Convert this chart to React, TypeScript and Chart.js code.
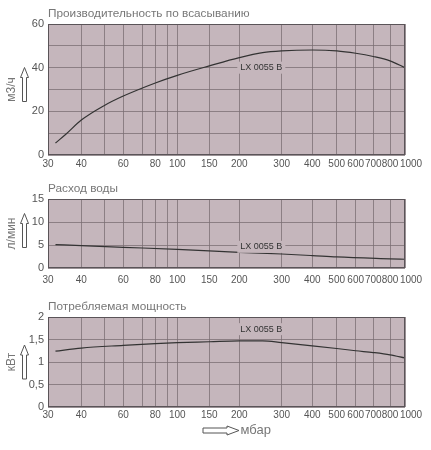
import React, { useEffect, useRef } from "react";
import { Chart, registerables, LogarithmicScale } from "chart.js";

// ---- data ----
const xTickValues = [30, 40, 50, 60, 70, 80, 90, 100, 150, 200, 300, 400, 500, 600, 700, 800, 1000];
const xHiddenLabels = [50, 70, 90];

const suctionPressure = [32, 35, 40, 50, 60, 80, 100, 150, 200, 250, 300, 400, 500, 600, 700, 800, 1000];
const suctionFlow = [5.5, 9.5, 16, 22.6, 27, 33, 36.5, 40.8, 44.6, 46.9, 47.7, 48.1, 47.7, 46.6, 45.1, 43.1, 40];

const waterPressure = [32, 40, 60, 100, 200, 300, 400, 500, 800, 1000];
const waterFlow = [5.1, 4.85, 4.5, 4.06, 3.4, 3.04, 2.7, 2.4, 2.0, 1.9];

const powerPressure = [32, 40, 60, 80, 100, 150, 200, 250, 300, 400, 500, 600, 700, 800, 1000];
const powerUse = [1.24, 1.31, 1.37, 1.41, 1.43, 1.45, 1.47, 1.47, 1.43, 1.36, 1.3, 1.25, 1.21, 1.16, 1.09];

const modelName = "LX 0055 B";
const xUnit = "мбар";

// ---- axis calibration of the printed (non-uniform, log-like) pressure axis ----
const axisStops = [30, 40, 50, 60, 70, 80, 90, 100, 150, 200, 300, 400, 500, 600, 700, 800, 1000];
const axisDecimals = [0, 0.0933, 0.1569, 0.2109, 0.2653, 0.3006, 0.3361, 0.3622, 0.4518, 0.5359, 0.6546, 0.7403, 0.8087, 0.8619, 0.9112, 0.958, 1];

function warp(v: number): number {
  const lv = Math.log(Math.max(v, 1e-9));
  const n = axisStops.length;
  let i = 0;
  while (i < n - 2 && v > axisStops[i + 1]) i++;
  const l0 = Math.log(axisStops[i]);
  const l1 = Math.log(axisStops[i + 1]);
  return axisDecimals[i] + ((axisDecimals[i + 1] - axisDecimals[i]) * (lv - l0)) / (l1 - l0);
}

function unwarp(d: number): number {
  const n = axisStops.length;
  let i = 0;
  while (i < n - 2 && d > axisDecimals[i + 1]) i++;
  const l0 = Math.log(axisStops[i]);
  const l1 = Math.log(axisStops[i + 1]);
  const t = (d - axisDecimals[i]) / (axisDecimals[i + 1] - axisDecimals[i]);
  return Math.exp(l0 + t * (l1 - l0));
}

class WarpedLogScale extends (LogarithmicScale as any) {
  static id = "warpedLog";
  static defaults = (LogarithmicScale as any).defaults;
  getPixelForValue(value: number) {
    return (this as any).getPixelForDecimal(warp(value));
  }
  getValueForPixel(pixel: number) {
    return unwarp((this as any).getDecimalForPixel(pixel));
  }
}

Chart.register(...registerables, WarpedLogScale as any);

// ---- style ----
const BG = "#c5b6bc";
const GRID = "rgba(120,108,114,0.75)";
const BORDER = "#5a5458";
const TICK = "#555555";
const SOFT = "#777777";
const FONT = "'Liberation Sans', Arial, sans-serif";

type Panel = {
  title: string;
  unit: string;
  xs: number[];
  ys: number[];
  yMax: number;
  yStep: number;
  labelEvery: number;
  top: number;
  height: number;
  areaTop: number;
  xAxisHeight: number;
  tickPad: number;
  arrowShift: number;
  labelAt: { x: number; y: number };
  showXUnit: boolean;
};

const panels: Panel[] = [
  {
    title: "Производительность по всасыванию",
    unit: "м3/ч",
    xs: suctionPressure,
    ys: suctionFlow,
    yMax: 60,
    yStep: 10,
    labelEvery: 20,
    top: 0,
    height: 172,
    areaTop: 24,
    xAxisHeight: 17,
    tickPad: 3,
    arrowShift: -5,
    labelAt: { x: 200, y: 40 },
    showXUnit: false,
  },
  {
    title: "Расход воды",
    unit: "л/мин",
    xs: waterPressure,
    ys: waterFlow,
    yMax: 15,
    yStep: 5,
    labelEvery: 5,
    top: 172,
    height: 116,
    areaTop: 27,
    xAxisHeight: 20,
    tickPad: 6,
    arrowShift: -3,
    labelAt: { x: 200, y: 4.6 },
    showXUnit: false,
  },
  {
    title: "Потребляемая мощность",
    unit: "кВт",
    xs: powerPressure,
    ys: powerUse,
    yMax: 2,
    yStep: 0.5,
    labelEvery: 0.5,
    top: 288,
    height: 162,
    areaTop: 29,
    xAxisHeight: 43,
    tickPad: 2,
    arrowShift: 0,
    labelAt: { x: 200, y: 1.73 },
    showXUnit: true,
  },
];

function drawUpArrow(ctx: CanvasRenderingContext2D, cx: number, top: number, bottom: number) {
  const hw = 4, sw = 2, hh = 10;
  ctx.beginPath();
  ctx.moveTo(cx, top);
  ctx.lineTo(cx + hw, top + hh);
  ctx.lineTo(cx + sw, top + hh);
  ctx.lineTo(cx + sw, bottom);
  ctx.lineTo(cx - sw, bottom);
  ctx.lineTo(cx - sw, top + hh);
  ctx.lineTo(cx - hw, top + hh);
  ctx.closePath();
  ctx.fillStyle = "#ffffff";
  ctx.fill();
  ctx.strokeStyle = "#555";
  ctx.lineWidth = 1;
  ctx.stroke();
}

function drawRightArrow(ctx: CanvasRenderingContext2D, left: number, right: number, cy: number) {
  const hh = 4.5, sh = 2.5, hl = 12;
  ctx.beginPath();
  ctx.moveTo(right, cy);
  ctx.lineTo(right - hl, cy - hh);
  ctx.lineTo(right - hl, cy - sh);
  ctx.lineTo(left, cy - sh);
  ctx.lineTo(left, cy + sh);
  ctx.lineTo(right - hl, cy + sh);
  ctx.lineTo(right - hl, cy + hh);
  ctx.closePath();
  ctx.fillStyle = "#ffffff";
  ctx.fill();
  ctx.strokeStyle = "#555";
  ctx.lineWidth = 1;
  ctx.stroke();
}

function fmt(v: number) {
  return String(v).replace(".", ",");
}

function PanelChart({ p }: { p: Panel }) {
  const ref = useRef<HTMLCanvasElement | null>(null);
  useEffect(() => {
    if (!ref.current) return;
    const decor = {
      id: "decor",
      beforeDraw(chart: any) {
        const { ctx, chartArea: a } = chart;
        ctx.save();
        ctx.fillStyle = BG;
        ctx.fillRect(a.left, a.top, a.right - a.left, a.bottom - a.top);
        ctx.restore();
        // the printed axis sets its last label just past the frame edge
        const xs = chart.scales.x;
        if (xs && typeof xs.getLabelItems === "function") {
          const items = xs.getLabelItems(a);
          const last = items && items.find((it: any) => String(it.label) === "1000");
          if (last && last.options && last.options.translation && !last._shifted) {
            last.options.translation[0] += 6;
            last._shifted = true;
          }
        }
      },
      afterDraw(chart: any) {
        const { ctx, chartArea: a } = chart;
        const xs = chart.scales.x;
        const ys = chart.scales.y;
        ctx.save();
        // border
        ctx.strokeStyle = BORDER;
        ctx.lineWidth = 1;
        ctx.strokeRect(a.left + 0.5, a.top + 0.5, a.right - a.left - 1, a.bottom - a.top - 1);
        // title
        ctx.fillStyle = SOFT;
        ctx.font = `11.8px ${FONT}`;
        ctx.textAlign = "left";
        ctx.textBaseline = "middle";
        ctx.fillText(p.title, a.left, a.top - 10);
        // model label
        const lx = xs.getPixelForValue(p.labelAt.x) + 1;
        const ly = ys.getPixelForValue(p.labelAt.y);
        ctx.font = `9px ${FONT}`;
        const w = ctx.measureText(modelName).width;
        ctx.fillStyle = BG;
        ctx.fillRect(lx - 3, ly - 6, w + 6, 12);
        ctx.fillStyle = "#333";
        ctx.fillText(modelName, lx, ly);
        // y unit + arrow
        const mid = (a.top + a.bottom) / 2;
        ctx.save();
        ctx.translate(12, mid);
        ctx.rotate(-Math.PI / 2);
        ctx.textAlign = "center";
        ctx.fillStyle = SOFT;
        ctx.font = `12px ${FONT}`;
        ctx.fillText(p.unit, 0, 0);
        ctx.restore();
        drawUpArrow(ctx, 24.5, mid + p.arrowShift - 17, mid + p.arrowShift + 17);
        if (p.showXUnit) {
          const cy = a.bottom + 23.5;
          const cx = (a.left + a.right) / 2;
          drawRightArrow(ctx, cx - 23.5, cx + 12.5, cy);
          ctx.fillStyle = SOFT;
          ctx.font = `13px ${FONT}`;
          ctx.textAlign = "left";
          ctx.fillText(xUnit, cx + 14, cy);
        }
        ctx.restore();
      },
    };
    const chart = new Chart(ref.current, {
      type: "line",
      data: {
        datasets: [
          {
            data: p.xs.map((x, i) => ({ x, y: p.ys[i] })),
            borderColor: "#333333",
            borderWidth: 1.2,
            pointRadius: 0,
            cubicInterpolationMode: "monotone",
            fill: false,
          },
        ],
      },
      options: {
        animation: false,
        responsive: false,
        maintainAspectRatio: false,
        layout: { padding: { top: p.areaTop, right: 26, left: 0, bottom: 0 } },
        plugins: { legend: { display: false }, tooltip: { enabled: false }, title: { display: false } },
        scales: {
          x: {
            type: "warpedLog",
            min: 30,
            max: 1000,
            afterBuildTicks: (s: any) => {
              s.ticks = xTickValues.map((v) => ({ value: v }));
            },
            afterFit: (s: any) => {
              s.height = p.xAxisHeight;
            },
            ticks: {
              autoSkip: false,
              maxRotation: 0,
              padding: p.tickPad,
              color: TICK,
              font: { family: FONT, size: 10 },
              callback: (v: any) => (xHiddenLabels.includes(Number(v)) ? "" : String(v)),
            },
            grid: { color: GRID, drawTicks: false, lineWidth: 1 },
            border: { display: false },
          },
          y: {
            type: "linear",
            min: 0,
            max: p.yMax,
            afterFit: (s: any) => {
              s.width = 48;
            },
            ticks: {
              stepSize: p.yStep,
              padding: 4,
              color: TICK,
              font: { family: FONT, size: 11 },
              callback: (v: any) => {
                const n = Number(v);
                const r = n / p.labelEvery;
                return Math.abs(r - Math.round(r)) < 1e-6 ? fmt(n) : "";
              },
            },
            grid: { color: GRID, drawTicks: false, lineWidth: 1 },
            border: { display: false },
          },
        },
      } as any,
      plugins: [decor as any],
    });
    return () => chart.destroy();
  }, [p]);
  return (
    <canvas
      ref={ref}
      width={431}
      height={p.height}
      style={{ position: "absolute", left: 0, top: p.top, width: 431, height: p.height }}
    />
  );
}

export default function App() {
  return (
    <div style={{ position: "absolute", left: 0, top: 0, width: 431, height: 450, background: "#fff" }}>
      {panels.map((p, i) => (
        <PanelChart key={i} p={p} />
      ))}
    </div>
  );
}
